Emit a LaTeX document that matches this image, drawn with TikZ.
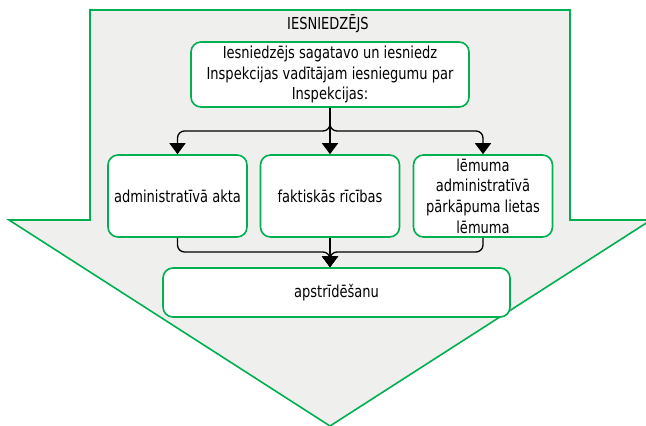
\documentclass[tikz,border=0pt]{standalone}
\usepackage{fontspec}
\setmainfont{DejaVu Sans}[FakeStretch=0.79]
\usetikzlibrary{arrows.meta}
\definecolor{framegreen}{RGB}{0,176,80}
\definecolor{arrowgray}{RGB}{239,239,237}
\tikzset{
  box/.style={draw=framegreen, line width=1.6pt, fill=white, rounded corners=10pt,
    align=center, inner sep=0pt, font=\fontsize{16.5}{20.7}\selectfont},
  conn/.style={line width=1.3pt, rounded corners=7pt, -{Triangle[width=16pt,length=11pt]}}
}
\begin{document}
\begin{tikzpicture}[x=1pt,y=-1pt]
\useasboundingbox (0,0) rectangle (646,426);
% big arrow
\filldraw[draw=framegreen, fill=arrowgray, line width=1.6pt]
  (90,10) -- (570,10) -- (570,220) -- (651,220) -- (330,426) -- (9,220) -- (90,220) -- cycle;
\node[font=\fontsize{16.5}{20.7}\selectfont] (title) at (328,24) {IESNIEDZĒJS};
% boxes
\node[box, minimum width=278pt, minimum height=65pt] (iesn) at (330,74.5)
  {Iesniedzējs sagatavo un iesniedz\\Inspekcijas vadītājam iesniegumu par\\Inspekcijas:};
\node[box, minimum width=139pt, minimum height=82pt] (akts) at (177.5,196) {administratīvā akta};
\node[box, minimum width=139pt, minimum height=82pt] (ricib) at (330,196) {faktiskās rīcības};
\node[box, minimum width=139pt, minimum height=82pt] (lemums) at (483,196)
  {lēmuma\\administratīvā\\pārkāpuma lietas\\lēmuma};
\node[box, minimum width=347pt, minimum height=49pt] (apstr) at (336.5,292.5) {apstrīdēšanu};
% connectors
\coordinate (split) at (330,131);
\coordinate (join) at (330,252);
\draw[conn] (iesn.south) -- (split) -| (akts.north);
\draw[conn] (iesn.south) -- (ricib.north);
\draw[conn] (iesn.south) -- (split) -| (lemums.north);
\draw[conn] (akts.south) |- (join) -- (apstr.north -| join);
\draw[conn] (ricib.south) -- (apstr.north -| join);
\draw[conn] (lemums.south) |- (join) -- (apstr.north -| join);
\end{tikzpicture}
\end{document}
